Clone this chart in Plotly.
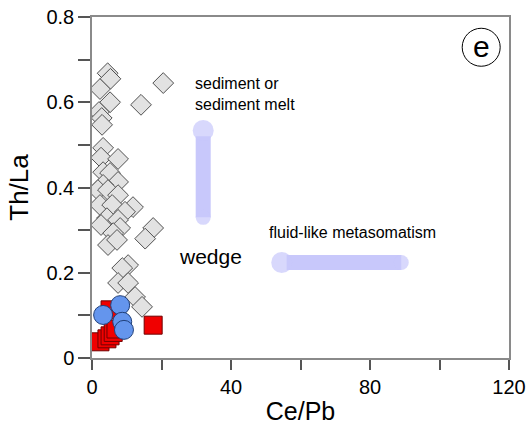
import plotly.graph_objects as go

# Data (Ce/Pb vs Th/La)
diamond_x = [4.5, 5.3, 20.5, 2.3, 5.2, 14.1, 2.0, 2.8, 2.9, 3.2, 2.6, 7.5, 3.2, 5.2, 7.5, 3.2,
             1.7, 4.6, 7.5, 11.8, 2.3, 5.8, 9.5, 4.3, 7.5, 2.6, 17.6, 8.1, 6.1, 15.3, 4.6, 7.2,
             10.4, 8.7, 7.5, 10.4, 12.4, 14.4]
diamond_y = [0.668, 0.655, 0.645, 0.631, 0.600, 0.594, 0.577, 0.563, 0.547, 0.493, 0.470, 0.467,
             0.436, 0.434, 0.413, 0.406, 0.394, 0.394, 0.382, 0.354, 0.359, 0.359, 0.343, 0.328,
             0.324, 0.312, 0.305, 0.305, 0.293, 0.280, 0.265, 0.277, 0.218, 0.211, 0.176, 0.176,
             0.143, 0.120]

square_x = [2.3, 4.3, 5.2, 6.1, 6.9, 5.2, 17.6]
square_y = [0.038, 0.045, 0.052, 0.060, 0.068, 0.113, 0.077]

circle_x = [8.1, 3.2, 8.7, 9.2]
circle_y = [0.124, 0.101, 0.085, 0.066]

x_ticks = [0, 40, 80, 120]
y_ticks = [0, 0.2, 0.4, 0.6, 0.8]

FONT = "Liberation Sans, Arial, sans-serif"
ARROW = "#c8c8fb"

fig = go.Figure()

# arrows (thick lavender bands)
fig.add_trace(go.Scatter(x=[32, 32], y=[0.33, 0.52], mode="lines",
                         line=dict(color=ARROW, width=15), hoverinfo="skip", showlegend=False))
fig.add_trace(go.Scatter(x=[32, 32], y=[0.33, 0.534], mode="markers",
                         marker=dict(color=ARROW, size=[15, 21], line=dict(width=0)),
                         hoverinfo="skip", showlegend=False))
fig.add_trace(go.Scatter(x=[56, 89.0], y=[0.224, 0.224], mode="lines",
                         line=dict(color=ARROW, width=15), hoverinfo="skip", showlegend=False))
fig.add_trace(go.Scatter(x=[54.6, 89.0], y=[0.224, 0.224], mode="markers",
                         marker=dict(color=ARROW, size=[21, 15], line=dict(width=0)),
                         hoverinfo="skip", showlegend=False))

fig.add_trace(go.Scatter(x=diamond_x, y=diamond_y, mode="markers",
                         marker=dict(symbol="diamond", size=16, color="#e2e2e2",
                                     line=dict(color="#505050", width=1)),
                         showlegend=False))
fig.add_trace(go.Scatter(x=square_x, y=square_y, mode="markers",
                         marker=dict(symbol="square", size=18, color="#f00000",
                                     line=dict(color="#700000", width=1)),
                         showlegend=False))
fig.add_trace(go.Scatter(x=circle_x, y=circle_y, mode="markers",
                         marker=dict(symbol="circle", size=19, color="#6495ed",
                                     line=dict(color="#20407a", width=1)),
                         showlegend=False))

axis_common = dict(showgrid=False, zeroline=False, showline=True, linecolor="#8a8a8a",
                   linewidth=1.5, mirror=True, ticks="outside", tickcolor="#555555",
                   tickwidth=1.5, automargin=False,
                   tickfont=dict(family=FONT, size=20, color="black"))

fig.update_xaxes(range=[0, 120], tickmode="array", tickvals=[0, 20, 40, 60, 80, 100, 120],
                 ticktext=["0", "", "40", "", "80", "", "120"], ticklen=10,
                 title=dict(text="Ce/Pb", font=dict(family=FONT, size=25, color="black"), standoff=6),
                 **axis_common)
fig.update_yaxes(range=[0, 0.8], tickmode="array",
                 tickvals=[0, 0.1, 0.2, 0.3, 0.4, 0.5, 0.6, 0.7, 0.8],
                 ticktext=["0", "", "0.2", "", "0.4", "", "0.6", "", "0.8"], ticklen=12,
                 title=dict(text="Th/La", font=dict(family=FONT, size=26, color="black"), standoff=10),
                 **axis_common)

fig.add_annotation(x=29.2, y=0.62, xref="x", yref="y", xanchor="left", yanchor="middle",
                   text="sediment or<br>sediment melt", showarrow=False, align="left",
                   font=dict(family=FONT, size=16, color="black"))
fig.add_annotation(x=50.4, y=0.295, xref="x", yref="y", xanchor="left", yanchor="middle",
                   text="fluid-like metasomatism", showarrow=False,
                   font=dict(family=FONT, size=16, color="black"))
fig.add_annotation(x=34.2, y=0.237, xref="x", yref="y", xanchor="center", yanchor="middle",
                   text="wedge", showarrow=False,
                   font=dict(family=FONT, size=21, color="black"))

# panel label "e" in a circle
fig.add_shape(type="circle", xref="x", yref="y", xsizemode="pixel", ysizemode="pixel",
              xanchor=112.0, yanchor=0.729, x0=-19, x1=19, y0=-19, y1=19,
              line=dict(color="black", width=1), fillcolor="white")
fig.add_annotation(x=112.0, y=0.731, xref="x", yref="y", text="e", showarrow=False,
                   font=dict(family=FONT, size=30, color="black"))

fig.update_layout(width=529, height=429, margin=dict(l=92, r=20, t=17, b=71),
                  plot_bgcolor="white", paper_bgcolor="white")

fig.write_html("out.html")
